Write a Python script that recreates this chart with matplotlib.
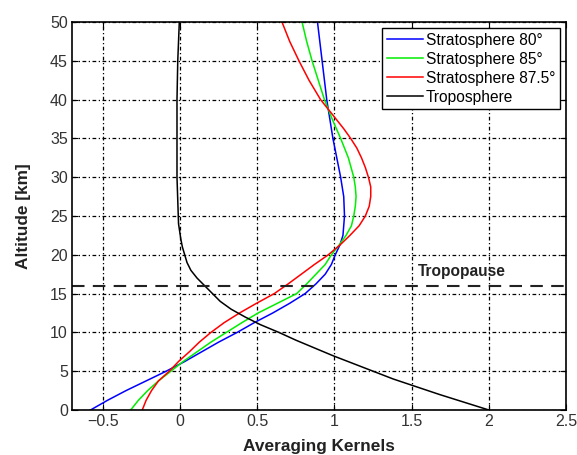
import matplotlib
matplotlib.use("Agg")
import matplotlib.pyplot as plt

plt.rcParams['font.family'] = ['Liberation Sans', 'DejaVu Sans']

alt_80 = [0, 1.25, 2.5, 3.75, 5, 6.25, 7.5, 8.75, 10, 11.25, 12.5, 13.75, 15, 16.25, 17.5, 18.75, 20, 21.25, 22.5, 25, 27.5, 30, 32.5, 35, 37.5, 40, 42.5, 45, 47.5, 50]
ak_80 = [-0.58, -0.47, -0.35, -0.22, -0.09, 0.03, 0.14, 0.25, 0.37, 0.48, 0.60, 0.71, 0.81, 0.88, 0.94, 0.98, 1.005, 1.035, 1.055, 1.065, 1.06, 1.04, 1.015, 0.99, 0.97, 0.95, 0.935, 0.92, 0.905, 0.89]

alt_85 = [0, 1.25, 2.5, 3.75, 5, 6.25, 7.5, 8.75, 10, 11.25, 12.5, 13.75, 15, 16.25, 17.5, 18.75, 20, 21.25, 22.5, 23.75, 25, 26.25, 27.5, 28.75, 30, 32.5, 35, 37.5, 40, 42.5, 45, 47.5, 50]
ak_85 = [-0.32, -0.27, -0.21, -0.14, -0.06, 0.02, 0.11, 0.20, 0.30, 0.40, 0.505, 0.63, 0.755, 0.82, 0.88, 0.94, 0.98, 1.03, 1.075, 1.11, 1.125, 1.135, 1.14, 1.135, 1.125, 1.09, 1.04, 0.985, 0.935, 0.895, 0.855, 0.82, 0.79]

alt_875 = [0, 1.25, 2.5, 3.75, 5, 6.25, 7.5, 8.75, 10, 11.25, 12.5, 13.75, 15, 16.25, 17.5, 18.75, 20, 21.25, 22.5, 23.75, 25, 26.25, 27.5, 28.75, 30, 31.25, 32.5, 33.75, 35, 36.25, 37.5, 38.75, 40, 42.5, 45, 47.5, 50]
ak_875 = [-0.245, -0.22, -0.185, -0.14, -0.07, -0.01, 0.06, 0.125, 0.20, 0.285, 0.385, 0.495, 0.61, 0.70, 0.785, 0.87, 0.96, 1.035, 1.10, 1.16, 1.20, 1.225, 1.235, 1.235, 1.22, 1.20, 1.175, 1.145, 1.105, 1.06, 1.01, 0.96, 0.91, 0.835, 0.77, 0.71, 0.66]

alt_trop = [0, 1, 2, 3, 4, 5, 6, 7, 8, 9, 10, 11, 12, 13, 14, 15, 16, 17, 18, 19, 20, 21, 22, 24, 27, 30, 40, 45, 50]
ak_trop = [2.0, 1.84, 1.68, 1.53, 1.38, 1.25, 1.12, 0.99, 0.87, 0.75, 0.64, 0.52, 0.42, 0.33, 0.26, 0.21, 0.16, 0.11, 0.07, 0.045, 0.03, 0.015, 0.005, -0.01, -0.015, -0.02, -0.02, -0.015, -0.005]

tropopause_alt = 16
xticks = [-0.5, 0, 0.5, 1, 1.5, 2, 2.5]
xticklabels = ["−0.5", "0", "0.5", "1", "1.5", "2", "2.5"]
yticks = [0, 5, 10, 15, 20, 25, 30, 35, 40, 45, 50]

fig = plt.figure(figsize=(5.77, 4.55), dpi=100)
ax = fig.add_axes([0.1248, 0.0989, 0.981 - 0.1248, 0.9516 - 0.0989])

ax.plot(ak_80, alt_80, color="#0000ff", lw=1.1, label="Stratosphere 80°")
ax.plot(ak_85, alt_85, color="#00ee00", lw=1.1, label="Stratosphere 85°")
ax.plot(ak_875, alt_875, color="#ff0000", lw=1.1, label="Stratosphere 87.5°")
ax.plot(ak_trop, alt_trop, color="black", lw=1.1, label="Troposphere")
ax.axhline(tropopause_alt, color="#222222", lw=1.5, ls=(0, (6, 4)))
ax.text(1.54, 17.9, "Tropopause", fontsize=11.2, fontweight="bold", va="center", ha="left", color="#222222")

ax.set_xlim(-0.7, 2.5)
ax.set_ylim(0, 50)
ax.set_xticks(xticks)
ax.set_xticklabels(xticklabels)
ax.set_yticks(yticks)
ax.grid(True, color="black", lw=0.9, ls=(0, (3, 2, 1, 2)))
ax.tick_params(direction="in", top=True, right=True, length=4, pad=3, labelsize=11.5, labelcolor="#333333")
for s in ax.spines.values():
    s.set_linewidth(1.2)
ax.set_xlabel("Averaging Kernels", fontsize=12.4, fontweight="bold", color="#222222", labelpad=7)
ax.set_ylabel("Altitude [km]", fontsize=12.4, fontweight="bold", color="#222222", labelpad=14)

leg = ax.legend(loc="upper right", fontsize=11.2, handlelength=2.3, handletextpad=0.2,
                borderpad=0.3, labelspacing=0.25, fancybox=False, framealpha=1,
                edgecolor="black", borderaxespad=0.4)
leg.get_frame().set_linewidth(1.0)

fig.savefig("out.png", dpi=100)
